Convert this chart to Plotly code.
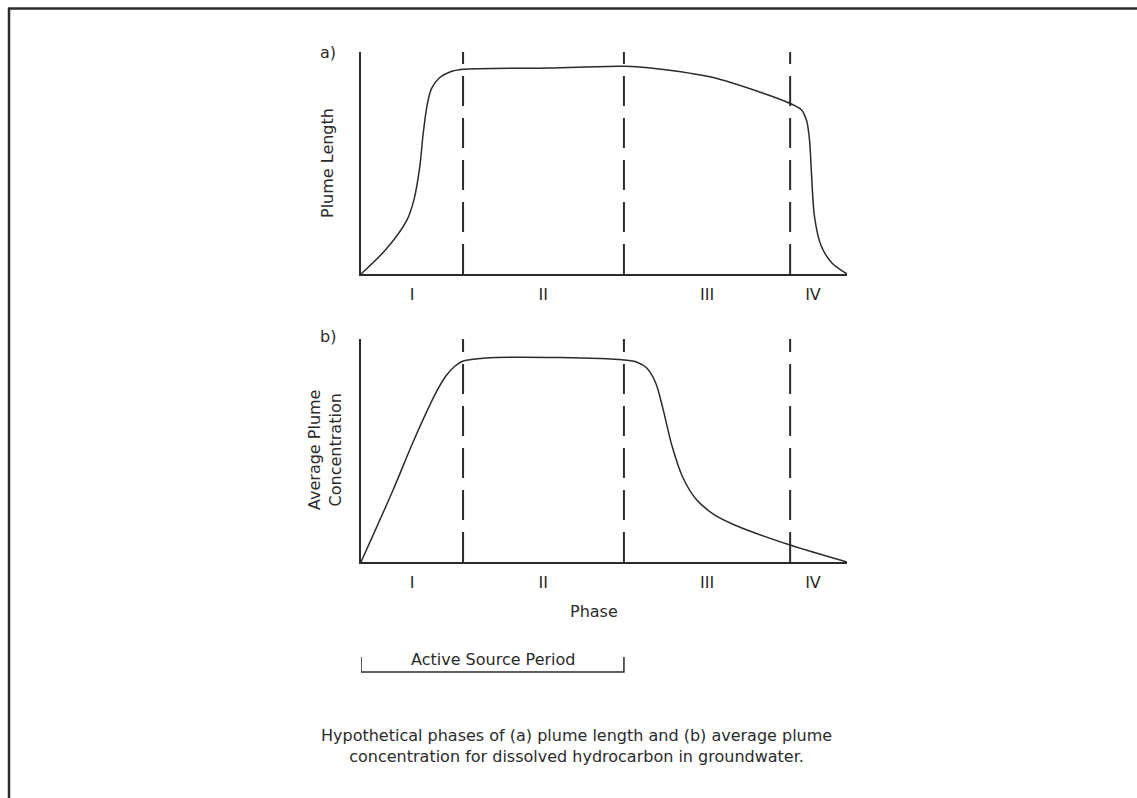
import plotly.graph_objects as go

W, H = 1137, 798

# ---- data (phase axis 0..100, response 0..100) ----
phase_bounds = [0, 21, 54.1, 88.3, 100]
phase_labels = ["I", "II", "III", "IV"]
phase_label_x = [10.5, 37.5, 71.2, 93.0]

length_x = [0, 5.1, 9.5, 10.9, 12.1, 12.8, 13.6, 14.5, 16.2, 18.3, 21, 38.9, 54.1,
            60.9, 72, 82.9, 88.3, 90.6, 91.7, 92.3, 92.7, 93.3, 94.7, 96.9, 100]
length_y = [0, 11, 24.5, 33.5, 48.4, 63.4, 76, 83.5, 88.5, 91, 92.2, 92.8, 93.6,
            92.5, 88.7, 81.3, 76.8, 74, 69, 60, 45, 26, 12.6, 5, 0]

conc_x = [0, 6.6, 10.9, 15.4, 17.5, 19.3, 21, 25.7, 40.9, 54.1, 56.8, 58.8, 60.6,
          62.1, 64.0, 66.2, 69.0, 72.5, 77.0, 88.3, 100]
conc_y = [0, 32.3, 54.7, 75.8, 83.5, 87.8, 90.1, 91.5, 91.7, 90.6, 89.6, 87.0, 80.5,
          69.0, 52.0, 38.0, 28.0, 21.5, 16.5, 7.6, 0]

y_top = 100

FONT = "DejaVu Sans"
INK = "#2b2b2b"
FS = 16


def px(x):
    return x / W


def py(y):
    return 1 - y / H


fig = go.Figure()

# curves
fig.add_trace(go.Scatter(x=length_x, y=length_y, mode="lines",
                         line=dict(color=INK, width=1.5, shape="spline", smoothing=0.8),
                         xaxis="x", yaxis="y", showlegend=False, hoverinfo="skip"))
fig.add_trace(go.Scatter(x=conc_x, y=conc_y, mode="lines",
                         line=dict(color=INK, width=1.5, shape="spline", smoothing=0.9),
                         xaxis="x2", yaxis="y2", showlegend=False, hoverinfo="skip"))

# dashed phase boundaries
for xa, ya in (("x", "y"), ("x2", "y2")):
    for b in phase_bounds[1:-1]:
        fig.add_trace(go.Scatter(x=[b, b], y=[0, y_top], mode="lines",
                                 line=dict(color=INK, width=2, dash="30px,12px"),
                                 xaxis=xa, yaxis=ya, showlegend=False, hoverinfo="skip"))

x_dom = [px(361), px(847)]
axis_common = dict(showgrid=False, zeroline=False, showline=True, linecolor=INK,
                   linewidth=2, fixedrange=True)
xaxis_common = dict(axis_common, range=[0, 100], tickmode="array",
                    tickvals=phase_label_x, ticktext=phase_labels,
                    ticks="outside", ticklen=5, tickcolor="rgba(0,0,0,0)",
                    tickfont=dict(family=FONT, size=FS, color=INK))
yaxis_common = dict(axis_common, range=[0, y_top], showticklabels=False, ticks="")

fig.update_layout(
    width=W, height=H,
    margin=dict(l=0, r=0, t=0, b=0),
    paper_bgcolor="white", plot_bgcolor="white",
    font=dict(family=FONT, color=INK, size=FS),
    xaxis=dict(xaxis_common, domain=x_dom, anchor="y"),
    yaxis=dict(yaxis_common, domain=[py(274), py(52)], anchor="x"),
    xaxis2=dict(xaxis_common, domain=x_dom, anchor="y2"),
    yaxis2=dict(yaxis_common, domain=[py(562), py(339)], anchor="x2"),
)

# annotations (text)
def ann(text, x, y, size=FS, angle=0, **kw):
    fig.add_annotation(text=text, x=px(x), y=py(y), xref="paper", yref="paper",
                       showarrow=False, textangle=angle,
                       font=dict(family=FONT, size=size, color=INK),
                       xanchor="center", yanchor="middle", **kw)

ann("a)", 328, 53)
ann("b)", 328, 337)
ann("Plume Length", 327, 163, angle=-90)
ann("Average Plume<br>Concentration", 325, 450, angle=-90)
ann("Phase", 594, 611)
ann("Active Source Period", 493, 659)
ann("Hypothetical phases of (a) plume length and (b) average plume<br>"
    "concentration for dissolved hydrocarbon in groundwater.", 576, 746)

# bracket under active source period (phases I-II)
fig.add_shape(type="path", xref="x2", yref="paper",
              path=(f"M {phase_bounds[0]},{py(657)} L {phase_bounds[0]},{py(672)} "
                    f"L {phase_bounds[2]},{py(672)} L {phase_bounds[2]},{py(657)}"),
              line=dict(color=INK, width=1.5))

# frame (top and left edges)
fig.add_shape(type="line", xref="paper", yref="paper",
              x0=px(8), x1=1, y0=py(8.5), y1=py(8.5), line=dict(color=INK, width=2.5))
fig.add_shape(type="line", xref="paper", yref="paper",
              x0=px(9), x1=px(9), y0=py(8), y1=0, line=dict(color=INK, width=2.5))

fig.write_html("out.html", config=dict(displayModeBar=False))
